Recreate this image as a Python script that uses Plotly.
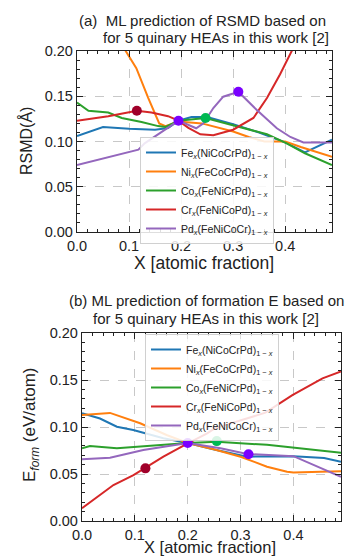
import plotly.graph_objects as go

# ---------------- data: panel (a) RSMD ----------------
fe_a_x = [0, 0.05, 0.10, 0.15, 0.175, 0.195, 0.22, 0.25, 0.30, 0.35, 0.40, 0.438, 0.49]
fe_a_y = [0.106, 0.116, 0.114, 0.113, 0.115, 0.123, 0.127, 0.127, 0.119, 0.110, 0.099, 0.088, 0.102]
ni_a_x = [0.085, 0.094, 0.114, 0.137, 0.158, 0.17, 0.195, 0.24, 0.26, 0.30, 0.33, 0.36, 0.40, 0.43, 0.49]
ni_a_y = [0.208, 0.200, 0.181, 0.148, 0.120, 0.117, 0.122, 0.120, 0.117, 0.111, 0.105, 0.100, 0.100, 0.094, 0.083]
co_a_x = [0, 0.022, 0.06, 0.086, 0.124, 0.156, 0.17, 0.195, 0.247, 0.30, 0.365, 0.403, 0.438, 0.49]
co_a_y = [0.143, 0.134, 0.132, 0.126, 0.1215, 0.117, 0.116, 0.123, 0.126, 0.118, 0.108, 0.098, 0.087, 0.074]
cr_a_x = [0, 0.06, 0.115, 0.143, 0.175, 0.195, 0.214, 0.237, 0.262, 0.30, 0.339, 0.365, 0.39, 0.413, 0.43]
cr_a_y = [0.123, 0.128, 0.134, 0.132, 0.128, 0.123, 0.115, 0.108, 0.107, 0.113, 0.126, 0.148, 0.174, 0.200, 0.22]
pd_a_x = [0, 0.035, 0.06, 0.086, 0.118, 0.13, 0.15, 0.172, 0.195, 0.229, 0.243, 0.262, 0.281, 0.30, 0.31, 0.345, 0.384, 0.41, 0.435, 0.49]
pd_a_y = [0.074, 0.079, 0.083, 0.087, 0.091, 0.098, 0.106, 0.114, 0.123, 0.1146, 0.120, 0.137, 0.1495, 0.153, 0.155, 0.135, 0.1146, 0.105, 0.099, 0.099]
mark_a_x = [0.115, 0.195, 0.247, 0.31]
mark_a_y = [0.134, 0.123, 0.126, 0.155]

# ---------------- data: panel (b) formation energy ----------------
fe_b_x = [0, 0.034, 0.066, 0.097, 0.154, 0.2, 0.25, 0.3125, 0.40, 0.458, 0.49]
fe_b_y = [0.1146, 0.109, 0.1003, 0.0968, 0.088, 0.083, 0.076, 0.0684, 0.069, 0.067, 0.063]
ni_b_x = [0, 0.053, 0.11, 0.16, 0.2, 0.249, 0.3, 0.35, 0.388, 0.40, 0.452, 0.49]
ni_b_y = [0.1128, 0.115, 0.104, 0.0915, 0.083, 0.0763, 0.0684, 0.0578, 0.0525, 0.0515, 0.0525, 0.053]
co_b_x = [0, 0.015, 0.066, 0.2, 0.255, 0.35, 0.49]
co_b_y = [0.0773, 0.0798, 0.0773, 0.083, 0.0844, 0.081, 0.0727]
cr_b_x = [0, 0.0595, 0.0974, 0.118, 0.154, 0.2, 0.236, 0.251, 0.30, 0.347, 0.398, 0.455, 0.49]
cr_b_y = [0.0135, 0.0383, 0.0489, 0.056, 0.0684, 0.0826, 0.093, 0.0986, 0.107, 0.1152, 0.134, 0.1518, 0.159]
pd_b_x = [0, 0.053, 0.116, 0.2, 0.262, 0.3125, 0.40, 0.49]
pd_b_y = [0.0656, 0.0674, 0.0755, 0.083, 0.0773, 0.0713, 0.069, 0.047]
mark_b_x = [0.12, 0.2, 0.255, 0.315]
mark_b_y = [0.056, 0.083, 0.085, 0.071]

mark_colors = ["#a0002a", "#7a00ff", "#00b852", "#7a00ff"]

names = [
    "Fe<sub><i>x</i></sub>(NiCoCrPd)<sub>1 − <i>x</i></sub>",
    "Ni<sub><i>x</i></sub>(FeCoCrPd)<sub>1 − <i>x</i></sub>",
    "Co<sub><i>x</i></sub>(FeNiCrPd)<sub>1 − <i>x</i></sub>",
    "Cr<sub><i>x</i></sub>(FeNiCoPd)<sub>1 − <i>x</i></sub>",
    "Pd<sub><i>x</i></sub>(FeNiCoCr)<sub>1 − <i>x</i></sub>",
]
colors = ["#1f77b4", "#ff7f0e", "#2ca02c", "#d62728", "#9467bd"]

W, H = 356, 557
FONT = "Liberation Sans, Arial, sans-serif"

fig = go.Figure()

series_a = [(fe_a_x, fe_a_y), (ni_a_x, ni_a_y), (co_a_x, co_a_y), (cr_a_x, cr_a_y), (pd_a_x, pd_a_y)]
series_b = [(fe_b_x, fe_b_y), (ni_b_x, ni_b_y), (co_b_x, co_b_y), (cr_b_x, cr_b_y), (pd_b_x, pd_b_y)]

for (xs, ys), nm, c in zip(series_a, names, colors):
    fig.add_trace(go.Scatter(x=xs, y=ys, mode="lines", name=nm, line=dict(color=c, width=2),
                             xaxis="x", yaxis="y", legend="legend"))
fig.add_trace(go.Scatter(x=mark_a_x, y=mark_a_y, mode="markers", showlegend=False,
                         marker=dict(color=mark_colors, size=10), xaxis="x", yaxis="y"))

for (xs, ys), nm, c in zip(series_b, names, colors):
    fig.add_trace(go.Scatter(x=xs, y=ys, mode="lines", name=nm, line=dict(color=c, width=2),
                             xaxis="x2", yaxis="y2", legend="legend2"))
fig.add_trace(go.Scatter(x=mark_b_x, y=mark_b_y, mode="markers", showlegend=False,
                         marker=dict(color=mark_colors, size=10), xaxis="x2", yaxis="y2"))


def px_x(p):
    return p / W


def px_y(p):
    return (H - p) / H


grid = dict(showgrid=True, gridcolor="#c8c8c8", griddash="dash", gridwidth=1)
common = dict(showline=True, linecolor="#222", linewidth=1.3, mirror="allticks",
              ticks="inside", ticklen=6, tickwidth=1, tickcolor="#222",
              tickfont=dict(size=14.5, color="#222", family=FONT), zeroline=False,
              automargin=False, **grid)

xcommon = dict(range=[0, 0.49], tickvals=[0, 0.1, 0.2, 0.3, 0.4], tickformat=".1f",
               minor=dict(ticks="inside", ticklen=3, tickcolor="#222", dtick=0.02, tick0=0, showgrid=False),
               **common)
ycommon = dict(range=[0, 0.2], tickvals=[0, 0.05, 0.1, 0.15, 0.2], tickformat=".2f",
               minor=dict(ticks="inside", ticklen=3, tickcolor="#222", dtick=0.01, tick0=0, showgrid=False),
               **common)

leg_common = dict(xanchor="left", yanchor="top",
                  bgcolor="rgba(255,255,255,0.85)", bordercolor="#d0d0d0", borderwidth=1,
                  font=dict(size=10.5, family=FONT, color="#222"), tracegroupgap=0,
                  itemwidth=30)

fig.update_layout(
    width=W, height=H,
    margin=dict(l=0, r=0, t=0, b=0, autoexpand=False),
    paper_bgcolor="white", plot_bgcolor="white",
    font=dict(family=FONT, color="#222"),
    xaxis=dict(domain=[px_x(77), px_x(332)], anchor="y", **xcommon),
    yaxis=dict(domain=[px_y(232), px_y(51)], anchor="x", **ycommon),
    xaxis2=dict(domain=[px_x(82), px_x(341)], anchor="y2", **xcommon),
    yaxis2=dict(domain=[px_y(521), px_y(333)], anchor="x2", **ycommon),
    legend=dict(x=px_x(140), y=px_y(137), **leg_common),
    legend2=dict(x=px_x(145), y=px_y(334), **leg_common),
    showlegend=True,
)

ann = []
# titles
ann.append(dict(text="(a)  ML prediction of RSMD based on", x=px_x(77), y=px_y(20), xanchor="left"))
ann.append(dict(text="for 5 quinary HEAs in this work [2]", x=px_x(101), y=px_y(38), xanchor="left"))
ann.append(dict(text="(b) ML prediction of formation E based on", x=px_x(67), y=px_y(300), xanchor="left"))
ann.append(dict(text="for 5 quinary HEAs in this work [2]", x=px_x(91), y=px_y(319), xanchor="left"))
for a in ann:
    a.update(xref="paper", yref="paper", yanchor="middle", showarrow=False,
             font=dict(size=15, family=FONT, color="#222"))
# axis titles
ann.append(dict(text="X [atomic fraction]", x=px_x(204), y=px_y(263), xref="paper", yref="paper",
                showarrow=False, xanchor="center", yanchor="middle",
                font=dict(size=17.5, family=FONT, color="#222")))
ann.append(dict(text="X [atomic fraction]", x=px_x(210), y=px_y(547), xref="paper", yref="paper",
                showarrow=False, xanchor="center", yanchor="middle",
                font=dict(size=16.5, family=FONT, color="#222")))
ann.append(dict(text="RSMD(Å)", x=px_x(26), y=px_y(141), xref="paper", yref="paper",
                showarrow=False, xanchor="center", yanchor="middle", textangle=-90,
                font=dict(size=16, family=FONT, color="#222")))
ann.append(dict(text="E<sub><i>form</i></sub> (eV/atom)", x=px_x(31), y=px_y(425), xref="paper", yref="paper",
                showarrow=False, xanchor="center", yanchor="middle", textangle=-90,
                font=dict(size=17, family=FONT, color="#222")))
fig.update_layout(annotations=ann)

fig.write_html("out.html")
